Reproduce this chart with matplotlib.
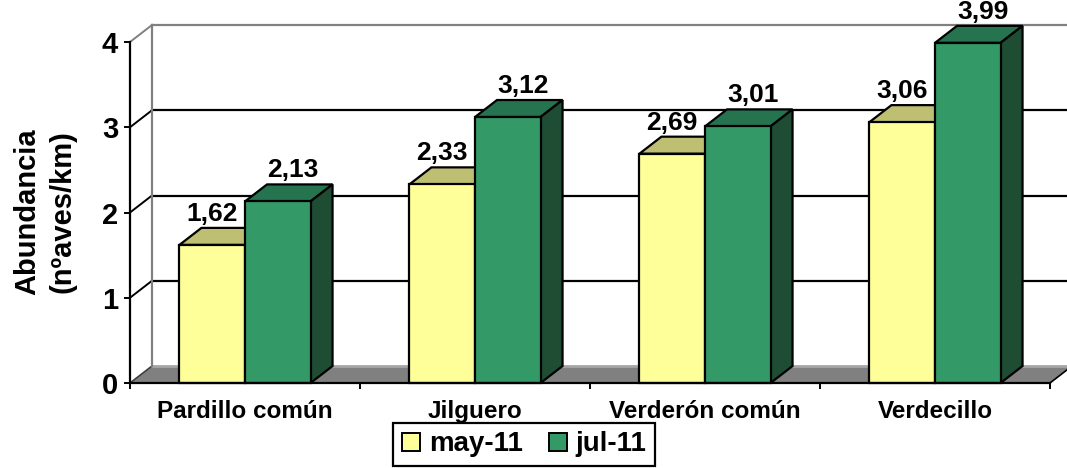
import matplotlib
matplotlib.use("Agg")
import matplotlib.pyplot as plt
from matplotlib.patches import Polygon
from matplotlib.lines import Line2D

# Data
categories = ["Pardillo común", "Jilguero", "Verderón común", "Verdecillo"]
may_11 = [1.62, 2.33, 2.69, 3.06]
jul_11 = [2.13, 3.12, 3.01, 3.99]
series_names = ["may-11", "jul-11"]
y_ticks = [0, 1, 2, 3, 4]

plt.rcParams['font.family'] = ['Liberation Sans', 'DejaVu Sans']
plt.rcParams['font.weight'] = 'bold'

W, H = 1067, 468
fig = plt.figure(figsize=(W / 100, H / 100), dpi=100)
ax = fig.add_axes([130 / W, (H - 383) / H, 920 / W, 341 / H])
ax.set_xlim(0, 4)
ax.set_ylim(0, 4)
ax.patch.set_visible(False)

# 3D depth offset (in data units)
dx = 22 / 230
dy = 17 / 85.25

# floor
ax.add_patch(Polygon([(0, 0), (4, 0), (4 + dx, dy), (dx, dy)], closed=True,
                     facecolor='#808080', edgecolor='none', clip_on=False, zorder=0))
ax.plot([dx, 4 + dx], [dy, dy], color='#a6a6a6', lw=2, clip_on=False, zorder=0.5)
ax.plot([4, 4 + dx], [0, dy], color='black', lw=1.2, clip_on=False, zorder=0.5)
ax.plot([0, dx], [0, dy], color='#404040', lw=1.2, clip_on=False, zorder=0.5)

# back wall and side wall
for v in y_ticks[1:]:
    col = '#808080' if v == 4 else 'black'
    ax.plot([dx, 4 + dx], [v + dy, v + dy], color=col, lw=1.6, clip_on=False, zorder=0.5)
    ax.plot([0, dx], [v, v + dy], color=col, lw=1.4, clip_on=False, zorder=0.5)
ax.plot([dx, dx], [dy, 4 + dy], color='#808080', lw=1.6, clip_on=False, zorder=0.5)

# bars
w = 0.285
colors = {
    "may-11": ('#ffff99', '#bfbf73', '#9c9c5a'),
    "jul-11": ('#339966', '#267350', '#1e4d33'),
}
z = 2
for i in range(len(categories)):
    for s, vals in enumerate([may_11, jul_11]):
        name = series_names[s]
        front, top, side = colors[name]
        x0 = i + 0.5 - w if s == 0 else i + 0.5
        x1 = x0 + w
        v = vals[i]
        ax.bar(x0, v, width=w, align='edge', color=front, edgecolor='black',
               lw=1.6, zorder=z + 1, clip_on=False)
        ax.add_patch(Polygon([(x0, v), (x1, v), (x1 + dx, v + dy), (x0 + dx, v + dy)],
                             closed=True, facecolor=top, edgecolor='black', lw=1.6,
                             zorder=z, clip_on=False))
        ax.add_patch(Polygon([(x1, 0), (x1, v), (x1 + dx, v + dy), (x1 + dx, dy)],
                             closed=True, facecolor=side, edgecolor='black', lw=1.6,
                             zorder=z, clip_on=False))
        lx = (x0 + x1) / 2 + (0.0 if s == 0 else dx * 0.7)
        ax.annotate(f"{v:.2f}".replace('.', ','), (lx, v + dy), xytext=(0, 5),
                    textcoords='offset points', ha='center', va='baseline',
                    fontsize=19, fontweight='bold', zorder=10, annotation_clip=False)
        z += 2

# axes styling
for side_name in ['top', 'right']:
    ax.spines[side_name].set_visible(False)
ax.spines['left'].set_linewidth(1.6)
ax.spines['bottom'].set_linewidth(1.6)
ax.spines['left'].set_zorder(50)
ax.spines['bottom'].set_zorder(50)

ax.set_yticks(y_ticks)
ax.set_yticklabels([str(t) for t in y_ticks], fontsize=21, fontweight='bold')
ax.tick_params(axis='y', length=4.5, width=1.4, pad=4)

ax.set_xticks([0, 1, 2, 3, 4])
ax.set_xticklabels([])
ax.tick_params(axis='x', which='major', length=4, width=1.4)
ax.set_xticks([0.5, 1.5, 2.5, 3.5], minor=True)
ax.set_xticklabels(categories, minor=True, fontsize=17.5, fontweight='bold')
ax.tick_params(axis='x', which='minor', length=0, pad=12)

fig.text(45 / W, 1 - 212 / H, "Abundancia\n(nºaves/km)", rotation=90,
         ha='center', va='center', fontsize=21, fontweight='bold',
         multialignment='center', linespacing=1.3)

handles = [
    Line2D([], [], marker='s', linestyle='none', markersize=13,
           markerfacecolor=colors[n][0], markeredgecolor='black', markeredgewidth=1.4)
    for n in series_names
]
leg = fig.legend(handles, series_names, loc='upper left',
                 bbox_to_anchor=(393 / W, 1 - 423 / H), ncol=2,
                 prop={'size': 20, 'weight': 'bold'}, fancybox=False,
                 edgecolor='black', framealpha=1, handlelength=0.7,
                 handletextpad=0.3, columnspacing=0.9, borderpad=0.3,
                 borderaxespad=0)
leg.get_frame().set_linewidth(1.6)

fig.savefig('out.png', dpi=100)
